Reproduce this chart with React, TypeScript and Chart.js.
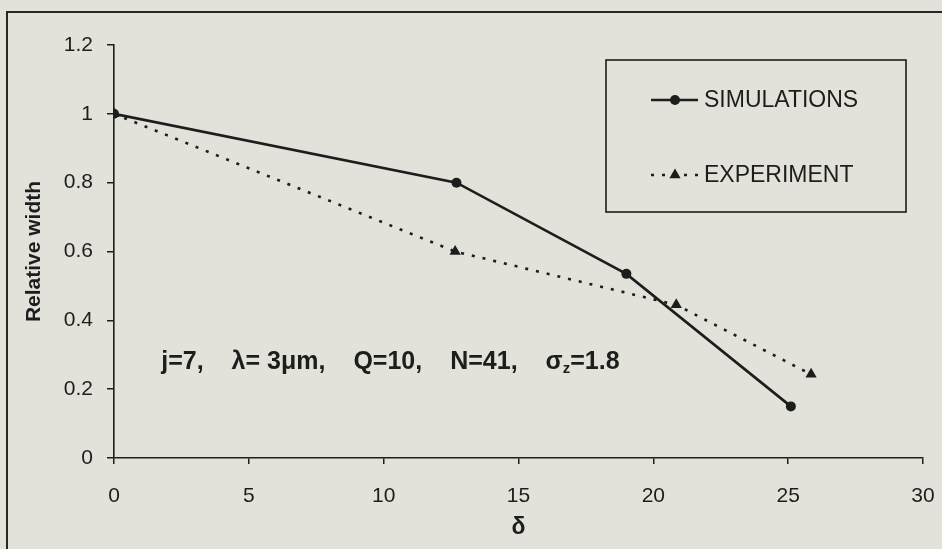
import React, { useEffect, useRef } from "react";
import { Chart, registerables } from "chart.js";

Chart.register(...registerables);

// Relative width against δ
const simDelta = [0, 12.7, 19.0, 25.1];
const simWidth = [1.0, 0.8, 0.535, 0.15];
const expDelta = [0, 12.65, 20.85, 25.85];
const expWidth = [1.0, 0.6, 0.445, 0.243];

const seriesNames = ["SIMULATIONS", "EXPERIMENT"];
const xTickValues = [0, 5, 10, 15, 20, 25, 30];
const xTickLabels = ["0", "5", "10", "15", "20", "25", "30"];
const yTickValues = [0, 0.2, 0.4, 0.6, 0.8, 1, 1.2];
const yTickLabels = ["0", "0.2", "0.4", "0.6", "0.8", "1", "1.2"];
const xTitle = "δ";
const yTitle = "Relative width";
// parameter note, written as separate items; the last one carries a subscript
const noteItems = ["j=7,", "λ= 3μm,", "Q=10,", "N=41,"];
const noteSigma = "σ";
const noteSub = "z";
const noteTail = "=1.8";
const noteAt = { x: 1.75, y: 0.28 };

const INK = "#1d1d1d";
const PAPER = "#e2e2da";
const FONT = "'Liberation Sans', Arial, Helvetica, sans-serif";

function labelFor(values: number[], labels: string[], v: number) {
  const i = values.findIndex((t) => Math.abs(t - v) < 1e-6);
  return i >= 0 ? labels[i] : "";
}

function drawMarker(ctx: CanvasRenderingContext2D, style: string, x: number, y: number, r: number) {
  ctx.beginPath();
  if (style === "triangle") {
    let rad = 0;
    ctx.moveTo(x + Math.sin(rad) * r, y - Math.cos(rad) * r);
    rad += (2 * Math.PI) / 3;
    ctx.lineTo(x + Math.sin(rad) * r, y - Math.cos(rad) * r);
    rad += (2 * Math.PI) / 3;
    ctx.lineTo(x + Math.sin(rad) * r, y - Math.cos(rad) * r);
    ctx.closePath();
  } else {
    ctx.arc(x, y, r, 0, Math.PI * 2);
  }
  ctx.fill();
}

const decorPlugin = {
  id: "decor",
  beforeDraw(chart: any) {
    const ctx = chart.ctx as CanvasRenderingContext2D;
    ctx.save();
    ctx.fillStyle = PAPER;
    ctx.fillRect(0, 0, chart.width, chart.height);
    ctx.restore();
  },
  afterDraw(chart: any) {
    const ctx = chart.ctx as CanvasRenderingContext2D;
    ctx.save();

    // outer frame
    ctx.strokeStyle = "#2b2424";
    ctx.lineWidth = 2;
    ctx.strokeRect(7, 12, chart.width + 20, chart.height + 20);

    // legend box
    ctx.lineWidth = 1.6;
    ctx.strokeStyle = INK;
    ctx.strokeRect(606, 60, 300, 152);

    const rows = [100, 175];
    chart.data.datasets.forEach((ds: any, i: number) => {
      const y = rows[i];
      ctx.strokeStyle = ds.borderColor;
      ctx.lineWidth = ds.borderWidth;
      ctx.setLineDash(ds.borderDash || []);
      ctx.beginPath();
      ctx.moveTo(651, y);
      ctx.lineTo(698, y);
      ctx.stroke();
      ctx.setLineDash([]);
      ctx.fillStyle = ds.pointBackgroundColor;
      drawMarker(ctx, ds.pointStyle, 675, y, ds.pointRadius);
      ctx.fillStyle = INK;
      ctx.font = `23px ${FONT}`;
      ctx.textBaseline = "middle";
      ctx.textAlign = "left";
      ctx.fillText(ds.label, 704, y + 1);
    });

    // parameter note
    const xs = chart.scales.x;
    const ys = chart.scales.y;
    let nx = xs.getPixelForValue(noteAt.x);
    const ny = ys.getPixelForValue(noteAt.y);
    const gap = 28;
    ctx.fillStyle = INK;
    ctx.textBaseline = "middle";
    ctx.textAlign = "left";
    ctx.font = `bold 25px ${FONT}`;
    noteItems.forEach((t) => {
      ctx.fillText(t, nx, ny);
      nx += ctx.measureText(t).width + gap;
    });
    ctx.fillText(noteSigma, nx, ny);
    nx += ctx.measureText(noteSigma).width;
    ctx.font = `bold 15px ${FONT}`;
    ctx.fillText(noteSub, nx, ny + 7);
    nx += ctx.measureText(noteSub).width;
    ctx.font = `bold 25px ${FONT}`;
    ctx.fillText(noteTail, nx, ny);

    ctx.restore();
  },
};

export default function App() {
  const canvasRef = useRef<HTMLCanvasElement | null>(null);

  useEffect(() => {
    const canvas = canvasRef.current;
    if (!canvas) return;
    const chart = new Chart(canvas, {
      type: "line",
      data: {
        datasets: [
          {
            label: seriesNames[0],
            data: simDelta.map((x, i) => ({ x, y: simWidth[i] })),
            borderColor: INK,
            backgroundColor: INK,
            borderWidth: 2.6,
            pointStyle: "circle",
            pointRadius: 5,
            pointBackgroundColor: INK,
            pointBorderWidth: 0,
            tension: 0,
          },
          {
            label: seriesNames[1],
            data: expDelta.map((x, i) => ({ x, y: expWidth[i] })),
            borderColor: INK,
            backgroundColor: INK,
            borderWidth: 2.6,
            borderDash: [3, 8],
            pointStyle: "triangle",
            pointRadius: 6.5,
            pointBackgroundColor: INK,
            pointBorderWidth: 0,
            tension: 0,
          },
        ],
      },
      options: {
        responsive: false,
        animation: false,
        events: [],
        layout: { padding: { top: 45, right: 19, left: 0, bottom: 0 } },
        plugins: {
          legend: { display: false },
          tooltip: { enabled: false },
        },
        scales: {
          x: {
            type: "linear",
            min: 0,
            max: 30,
            afterFit: (s: any) => {
              s.height = 91;
              s.paddingLeft = 0;
              s.paddingRight = 0;
            },
            afterBuildTicks: (s: any) => {
              s.ticks = xTickValues.map((v) => ({ value: v }));
            },
            ticks: {
              color: INK,
              font: { size: 21, family: FONT },
              padding: 20,
              maxRotation: 0,
              callback: (v: any) => labelFor(xTickValues, xTickLabels, Number(v)),
            },
            grid: {
              drawOnChartArea: false,
              drawTicks: true,
              tickLength: 6,
              color: INK,
              lineWidth: 1.5,
            },
            border: { display: true, color: INK, width: 1.6 },
            title: {
              display: true,
              text: xTitle,
              color: INK,
              font: { size: 23, weight: "bold", family: FONT },
              padding: { top: 0, bottom: 8 },
            },
          },
          y: {
            type: "linear",
            min: 0,
            max: 1.2,
            afterFit: (s: any) => {
              s.width = 114;
              s.paddingTop = 0;
              s.paddingBottom = 0;
            },
            afterBuildTicks: (s: any) => {
              s.ticks = yTickValues.map((v) => ({ value: v }));
            },
            ticks: {
              color: INK,
              font: { size: 21, family: FONT },
              padding: 14,
              callback: (v: any) => labelFor(yTickValues, yTickLabels, Number(v)),
            },
            grid: {
              drawOnChartArea: false,
              drawTicks: true,
              tickLength: 7,
              color: INK,
              lineWidth: 1.5,
            },
            border: { display: true, color: INK, width: 1.6 },
            title: {
              display: true,
              text: yTitle,
              color: INK,
              font: { size: 21, weight: "bold", family: FONT },
              padding: { top: 22, bottom: 0 },
            },
          },
        },
      },
      plugins: [decorPlugin],
    });
    return () => chart.destroy();
  }, []);

  return (
    <div style={{ position: "absolute", left: 0, top: 0, width: 942, height: 549, overflow: "hidden" }}>
      <canvas ref={canvasRef} width={942} height={549} style={{ display: "block" }} />
    </div>
  );
}
